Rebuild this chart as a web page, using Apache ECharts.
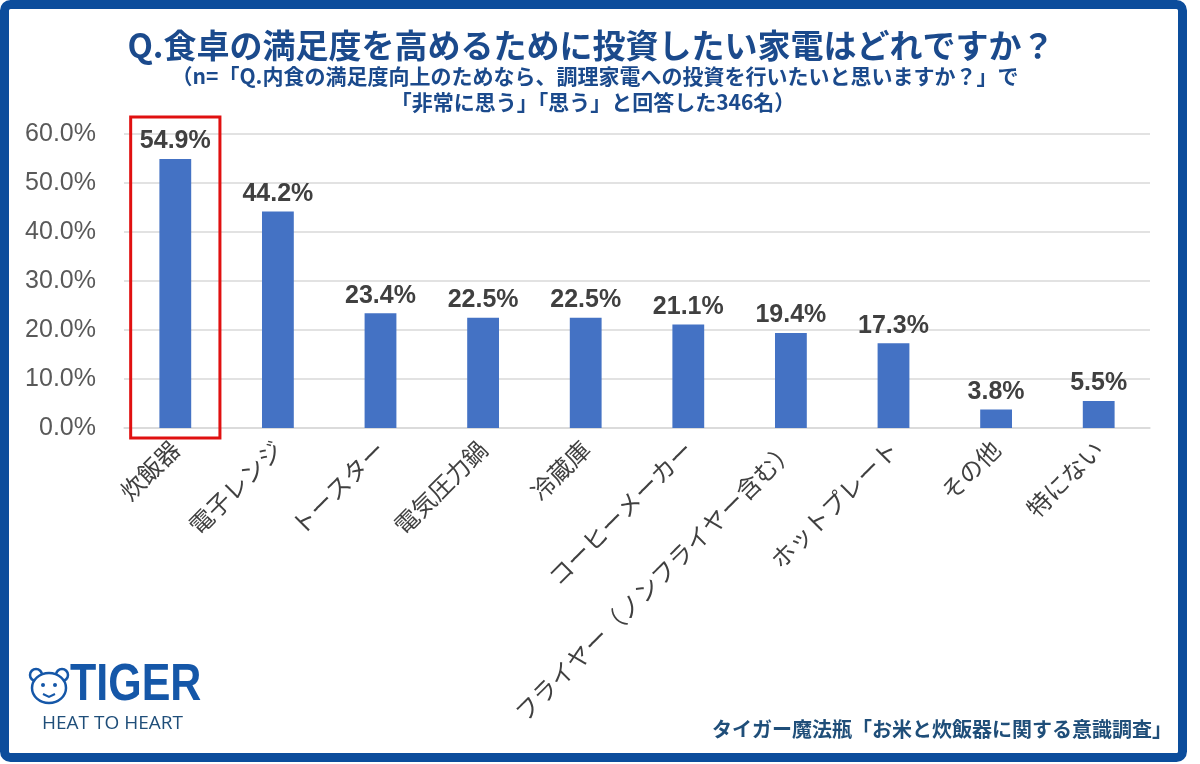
<!DOCTYPE html>
<html>
<head>
<meta charset="utf-8">
<script src="https://cdn.jsdelivr.net/npm/echarts@6/dist/echarts.min.js"></script>
<style>
  html, body { margin: 0; padding: 0; background: #fff; }
  #main { width: 1200px; height: 764px; }
</style>
</head>
<body>
<div id="main"></div>
<script>
// 項目と回答率（%）
var categories = ['炊飯器', '電子レンジ', 'トースター', '電気圧力鍋', '冷蔵庫', 'コーヒーメーカー', 'フライヤー（ノンフライヤー含む）', 'ホットプレート', 'その他', '特にない'];
var values = [54.9, 44.2, 23.4, 22.5, 22.5, 21.1, 19.4, 17.3, 3.8, 5.5];
var yTicks = [0, 10, 20, 30, 40, 50, 60];

var titleText = 'Q.食卓の満足度を高めるために投資したい家電はどれですか？';
var subText1 = '（n=「Q.内食の満足度向上のためなら、調理家電への投資を行いたいと思いますか？」で';
var subText2 = '「非常に思う」「思う」と回答した346名）';
var sourceText = 'タイガー魔法瓶「お米と炊飯器に関する意識調査」';

var navy = '#1b4a8c';
var jp = '"Noto Sans CJK JP", "Noto Sans", sans-serif';

window.onload = function () {
    var chart = echarts.init(document.getElementById('main'));

    var option = {
        backgroundColor: '#fff',
        animation: false,
        grid: {
            left: 124,
            right: 50,
            top: 134,
            bottom: 336
        },
        xAxis: {
            type: 'category',
            data: categories,
            axisLine: { lineStyle: { color: '#d9d9d9', width: 1.5 } },
            axisTick: { show: false },
            axisLabel: {
                rotate: 45,
                interval: 0,
                margin: 17,
                fontSize: 24,
                color: '#404040',
                fontFamily: jp
            }
        },
        yAxis: {
            type: 'value',
            min: yTicks[0],
            max: yTicks[yTicks.length - 1],
            interval: 10,
            axisLine: { show: false },
            axisTick: { show: false },
            splitLine: { lineStyle: { color: '#d9d9d9', width: 1.5 } },
            axisLabel: {
                fontSize: 25,
                color: '#595959',
                margin: 28,
                fontFamily: '"Liberation Sans", Arial, sans-serif',
                formatter: function (v) { return v.toFixed(1) + '%'; }
            }
        },
        series: [
            {
                type: 'bar',
                data: values,
                barWidth: '31%',
                itemStyle: { color: '#4472c4' },
                label: {
                    show: true,
                    position: 'top',
                    distance: 5,
                    fontSize: 25,
                    fontWeight: 'bold',
                    color: '#404040',
                    fontFamily: '"Liberation Sans", Arial, sans-serif',
                    formatter: function (p) { return p.value.toFixed(1) + '%'; }
                }
            }
        ]
    };

    chart.setOption(option);

    // 炊飯器を囲む赤枠は軸の座標から求める
    var cx = chart.convertToPixel({ xAxisIndex: 0 }, categories[0]);
    var yTop = chart.convertToPixel({ yAxisIndex: 0 }, 60);
    var yZero = chart.convertToPixel({ yAxisIndex: 0 }, 0);
    var band = (1200 - 124 - 50) / categories.length;
    var boxW = band * 0.87;

    chart.setOption({
        graphic: [
            // 外枠
            {
                type: 'rect',
                shape: { x: 4.5, y: 4.5, width: 1178, height: 753, r: 6 },
                style: { fill: 'none', stroke: '#0c4d9c', lineWidth: 9 }
            },
            // タイトル
            {
                type: 'text',
                x: 591, y: 45,
                style: {
                    text: titleText, fill: navy, font: 'bold 33px ' + jp,
                    textAlign: 'center', textVerticalAlign: 'middle'
                }
            },
            {
                type: 'text',
                x: 595, y: 76,
                style: {
                    text: subText1, fill: navy, font: 'bold 21px ' + jp,
                    textAlign: 'center', textVerticalAlign: 'middle'
                }
            },
            {
                type: 'text',
                x: 593, y: 102,
                style: {
                    text: subText2, fill: navy, font: 'bold 21px ' + jp,
                    textAlign: 'center', textVerticalAlign: 'middle'
                }
            },
            // 赤枠
            {
                type: 'rect',
                z: 10,
                shape: { x: cx - boxW / 2, y: yTop - 17, width: boxW, height: yZero - yTop + 27 },
                style: { fill: 'none', stroke: '#e01010', lineWidth: 3 }
            },
            // ロゴ（簡略）
            {
                type: 'group',
                x: 49, y: 686,
                children: [
                    { type: 'circle', shape: { cx: -13, cy: -11, r: 6 }, style: { fill: 'none', stroke: '#1557a8', lineWidth: 2.5 } },
                    { type: 'circle', shape: { cx: 13, cy: -11, r: 6 }, style: { fill: 'none', stroke: '#1557a8', lineWidth: 2.5 } },
                    { type: 'ellipse', shape: { cx: 0, cy: 2, rx: 17, ry: 15 }, style: { fill: '#fff', stroke: '#1557a8', lineWidth: 2.5 } },
                    { type: 'circle', shape: { cx: -6, cy: -1, r: 2 }, style: { fill: '#1557a8' } },
                    { type: 'circle', shape: { cx: 6, cy: -1, r: 2 }, style: { fill: '#1557a8' } },
                    { type: 'polyline', shape: { points: [[-6, 8], [0, 11], [6, 8]] }, style: { fill: 'none', stroke: '#1557a8', lineWidth: 2 } }
                ]
            },
            {
                type: 'text',
                x: 70, y: 686, scaleY: 1.2,
                style: {
                    text: 'TIGER', fill: '#1557a8', font: '900 43px "Liberation Sans", Arial, sans-serif',
                    textAlign: 'left', textVerticalAlign: 'middle'
                }
            },
            {
                type: 'text',
                x: 42, y: 724,
                style: {
                    text: 'HEAT TO HEART', fill: '#1f4e79', font: '19px "Open Sans", "Noto Sans", sans-serif',
                    textAlign: 'left', textVerticalAlign: 'middle'
                }
            },
            // 出典
            {
                type: 'text',
                x: 1172, y: 729,
                style: {
                    text: sourceText, fill: '#1f4e79', font: 'bold 20px ' + jp,
                    textAlign: 'right', textVerticalAlign: 'middle'
                }
            }
        ]
    });
};
</script>
</body>
</html>
